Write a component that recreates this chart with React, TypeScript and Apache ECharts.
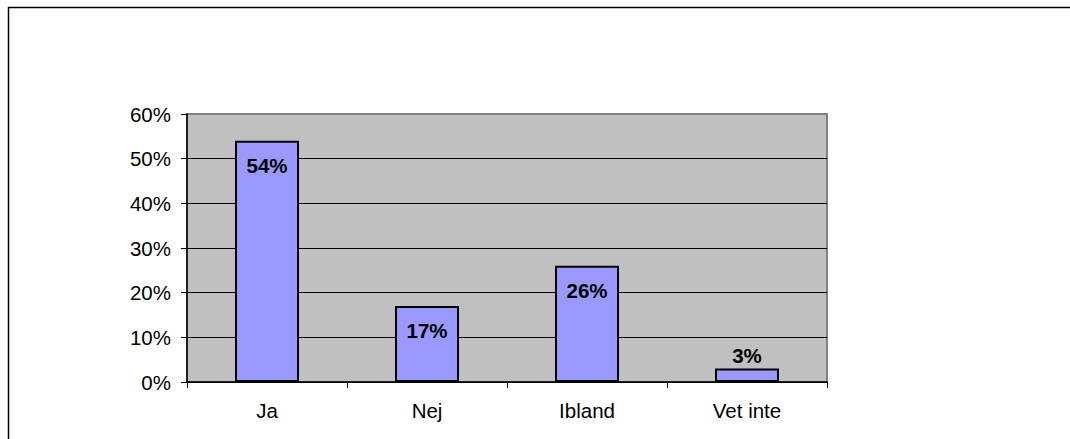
import React, { useEffect, useRef } from "react";
import * as echarts from "echarts";

const categories: string[] = ["Ja", "Nej", "Ibland", "Vet inte"];
const shares: number[] = [54, 17, 26, 3];
const yMin = 0;
const yMax = 60;
const yStep = 10;

const FONT = "'Liberation Sans', Arial, Helvetica, sans-serif";

export default function App() {
  const ref = useRef<HTMLDivElement>(null);

  useEffect(() => {
    if (!ref.current) return;
    const chart = echarts.init(ref.current, undefined, { renderer: "svg" });

    // Small bars keep their label above the bar, tall ones inside near the top.
    const barData = shares.map((v) => ({
      value: v,
      label:
        v < 10
          ? { position: "top" as const, distance: 3 }
          : { position: "insideTop" as const, distance: 14 },
    }));

    // Gridlines are black except the top one, which coincides with the grey frame.
    const gridColors: string[] = [];
    for (let v = yMin; v <= yMax; v += yStep) {
      gridColors.push(v === yMax ? "#808080" : "#000000");
    }

    chart.setOption({
      animation: false,
      backgroundColor: "#ffffff",
      textStyle: { fontFamily: FONT },
      graphic: [
        {
          type: "rect",
          shape: { x: 8.5, y: 7.5, width: 1200, height: 600 },
          style: { fill: "none", stroke: "#000000", lineWidth: 1.5 },
          silent: true,
          z: 100,
        },
      ],
      grid: {
        left: 187,
        right: 243,
        top: 114,
        bottom: 57,
        show: true,
        backgroundColor: "#C0C0C0",
        borderColor: "#808080",
        borderWidth: 2,
      },
      xAxis: {
        type: "category",
        data: categories,
        boundaryGap: true,
        axisLine: { show: true, lineStyle: { color: "#000000", width: 1.5 } },
        axisTick: {
          show: true,
          alignWithLabel: false,
          length: 6,
          lineStyle: { color: "#000000", width: 1 },
        },
        axisLabel: {
          color: "#000000",
          fontFamily: FONT,
          fontSize: 20.5,
          margin: 18,
        },
        splitLine: { show: false },
      },
      yAxis: {
        type: "value",
        min: yMin,
        max: yMax,
        interval: yStep,
        axisLine: { show: true, lineStyle: { color: "#000000", width: 1.5 } },
        axisTick: {
          show: true,
          length: 6,
          lineStyle: { color: "#000000", width: 1 },
        },
        axisLabel: {
          color: "#000000",
          fontFamily: FONT,
          fontSize: 20.5,
          margin: 16,
          formatter: "{value}%",
        },
        splitLine: {
          show: true,
          lineStyle: { color: gridColors, width: 1 },
        },
      },
      series: [
        {
          type: "bar",
          data: barData,
          barWidth: "40%",
          itemStyle: {
            color: "#9999FF",
            borderColor: "#000000",
            borderWidth: 2,
          },
          label: {
            show: true,
            formatter: "{c}%",
            color: "#000000",
            fontFamily: FONT,
            fontSize: 20.5,
            fontWeight: "bold",
          },
        },
      ],
    });

    return () => chart.dispose();
  }, []);

  return (
    <div
      ref={ref}
      style={{ position: "absolute", left: 0, top: 0, width: 1070, height: 439 }}
    />
  );
}
